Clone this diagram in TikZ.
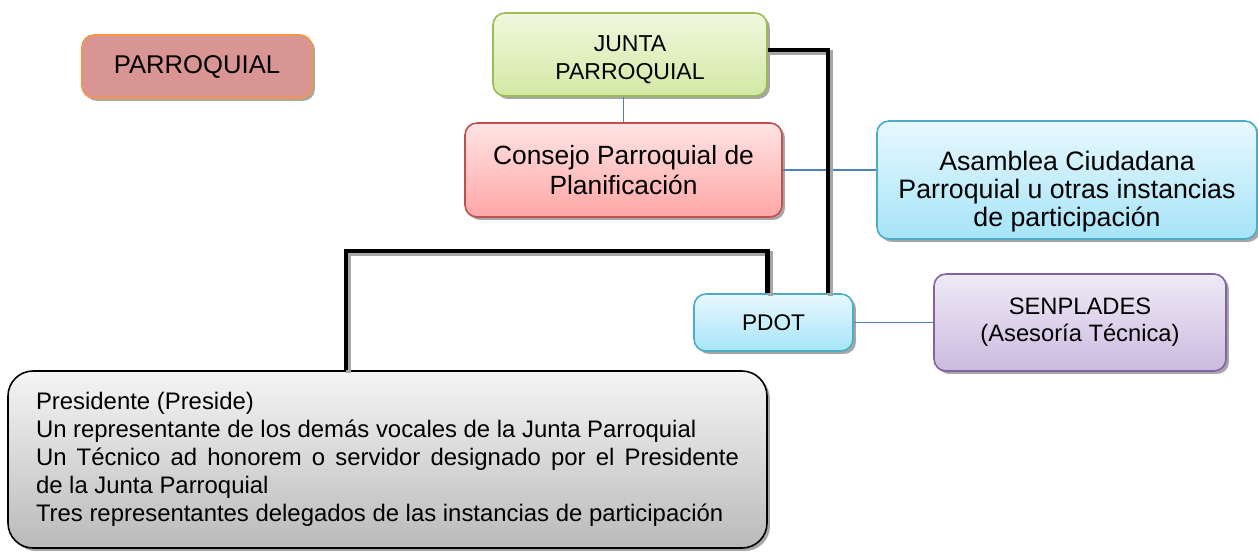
\documentclass[tikz,border=0pt]{standalone}
\usepackage{fontspec}
\setmainfont{Liberation Sans}
\usetikzlibrary{shadows}
\definecolor{linkblue}{HTML}{4F81BD}
\definecolor{rosafill}{HTML}{D99594}
\definecolor{naranja}{HTML}{F79646}
\definecolor{verdeborde}{HTML}{9BBB59}
\definecolor{verdearriba}{HTML}{F0F8DE}
\definecolor{verdeabajo}{HTML}{D3E8A4}
\definecolor{rojoborde}{HTML}{C0504D}
\definecolor{rojoarriba}{HTML}{FFE4E4}
\definecolor{rojoabajo}{HTML}{FFA6A6}
\definecolor{azulborde}{HTML}{4BACC6}
\definecolor{azularriba}{HTML}{E8F8FE}
\definecolor{azulabajo}{HTML}{A6E4F8}
\definecolor{moradoborde}{HTML}{8064A2}
\definecolor{moradoarriba}{HTML}{EFEAF6}
\definecolor{moradoabajo}{HTML}{CBBBE0}
\begin{document}
\begin{tikzpicture}[
  box/.style={rounded corners=0.24cm, line width=0.9pt, align=center, inner sep=0pt,
    drop shadow={shadow xshift=1.7pt, shadow yshift=-1.7pt, fill=black, opacity=0.35}},
  link/.style={draw=linkblue, line width=0.6pt},
  bar/.style={line width=2.8pt,
    preaction={draw=black!35, line width=2.8pt, transform canvas={shift={(1.5pt,-1.5pt)}}}}]
\useasboundingbox (0,0) rectangle (25.16,-11.02);

\node [box, draw=naranja, fill=rosafill, minimum width=4.6cm, minimum height=1.26cm,
  font=\fontsize{14.6}{17}\selectfont] (parroquial) at (3.94,-1.33) {PARROQUIAL};
\node [box, draw=verdeborde, top color=verdearriba, bottom color=verdeabajo,
  minimum width=5.48cm, minimum height=1.66cm,
  font=\fontsize{13.1}{15.4}\selectfont] (junta) at (12.6,-1.09)
  {\rule{0pt}{15pt}JUNTA\\PARROQUIAL};
\node [box, draw=rojoborde, top color=rojoarriba, bottom color=rojoabajo,
  minimum width=6.34cm, minimum height=1.88cm,
  font=\fontsize{15}{17}\selectfont] (consejo) at (12.47,-3.4) {Consejo Parroquial de\\Planificación};
\node [box, draw=azulborde, top color=azularriba, bottom color=azulabajo,
  minimum width=7.6cm, minimum height=2.36cm,
  font=\fontsize{15.2}{15.9}\selectfont] (asamblea) at (21.34,-3.6)
  {\rule{0pt}{24pt}Asamblea Ciudadana\\Parroquial u otras instancias\\de participación};
\node [box, draw=azulborde, top color=azularriba, bottom color=azulabajo,
  minimum width=3.18cm, minimum height=1.14cm,
  font=\fontsize{12.9}{15}\selectfont] (pdot) at (15.47,-6.45) {PDOT};
\node [box, draw=moradoborde, top color=moradoarriba, bottom color=moradoabajo,
  minimum width=5.84cm, minimum height=1.94cm,
  font=\fontsize{13.5}{15.4}\selectfont] (senplades) at (21.6,-6.45)
  {SENPLADES\\(Asesoría Técnica)};
\node [box, rounded corners=0.5cm, draw=black, top color=black!4, bottom color=black!27,
  minimum width=15.18cm, minimum height=3.54cm, text width=14.06cm, align=justify,
  font=\fontsize{13.6}{16}\selectfont] (miembros) at (7.75,-9.19)
  {Presidente (Preside)\\
   Un representante de los demás vocales de la Junta Parroquial\\
   Un Técnico ad honorem o servidor designado por el Presidente\linebreak
   de la Junta Parroquial\\
   Tres representantes delegados de las instancias de participación};

\draw [link] (consejo.north) -- (consejo.north |- junta.south);
\draw [link] (consejo.east) -- (consejo.east -| asamblea.west);
\draw [link] (pdot.east) -- (senplades.west);

\coordinate (pa) at ([xshift=1.09cm]pdot.north);
\coordinate (pb) at (pdot.north -| junta.east);
\coordinate (pc) at (6.92,-5.02);
\draw [bar] ([yshift=0.09cm]junta.east) -| (pa);
\draw [bar] (pb) |- (pc) -- (pc |- miembros.north);
\end{tikzpicture}
\end{document}
